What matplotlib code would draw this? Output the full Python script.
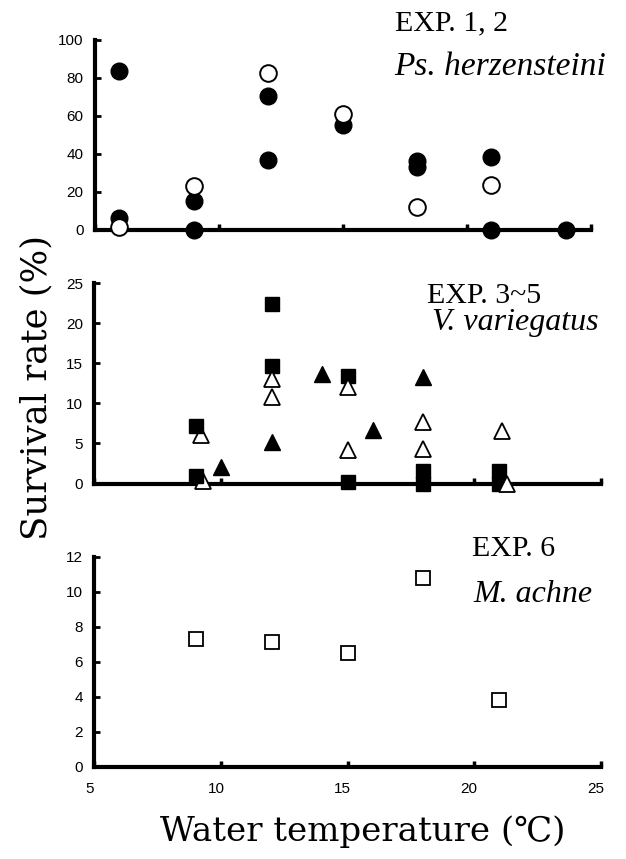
import matplotlib
matplotlib.use('Agg')
import matplotlib.pyplot as plt
import matplotlib.transforms as mtrans

# ---- data ----
# EXP. 1, 2  Ps. herzensteini
ps_fill_t = [6, 6, 9, 9, 12, 12, 15, 18, 18, 21, 21, 24]
ps_fill_v = [83.9, 6.1, 14.9, 0, 70.7, 36.8, 54.9, 36, 33, 38.4, 0, 0]
ps_open_t = [6, 9, 12, 15, 18, 21]
ps_open_v = [1.5, 22.8, 82.5, 60.9, 12.0, 23.5]

# EXP. 3~5  V. variegatus
vv_sq_t = [9, 9, 12, 12, 15, 15, 18, 18, 21, 21]
vv_sq_v = [7.2, 0.9, 22.4, 14.7, 13.4, 0.2, 1.5, 0, 1.5, 0]
vv_tri_t = [10, 12, 14, 16, 18]
vv_tri_v = [2.1, 5.2, 13.7, 6.7, 13.3]
vv_otri_t = [9.2, 9.3, 12, 12, 15, 15, 18, 18, 21.1, 21.3]
vv_otri_v = [6.05, 0.3, 13.1, 10.8, 12.1, 4.2, 7.7, 4.3, 6.5, 0]

# EXP. 6  M. achne
ma_t = [9, 12, 15, 18, 21]
ma_v = [7.3, 7.1, 6.5, 10.8, 3.8]

plt.rcParams['font.family'] = ['Liberation Sans', 'DejaVu Sans']

W, H = 626, 859
fig = plt.figure(figsize=(W / 100, H / 100), dpi=100)

def box(l, r, b, t):
    return [l / W, 1 - b / H, (r - l) / W, (b - t) / H]

ax1 = fig.add_axes(box(94.5, 590.5, 229.5, 40))
ax2 = fig.add_axes(box(94.3, 600.7, 483.5, 283.3))
ax3 = fig.add_axes(box(94.3, 600.7, 766.7, 556.7))

shift = mtrans.ScaledTranslation(-5 / 100, 0, fig.dpi_scale_trans)

for ax, ymax, ystep in [(ax1, 100, 20), (ax2, 25, 5), (ax3, 12, 2)]:
    ax.set_xlim(5, 25)
    ax.set_ylim(0, ymax)
    for s in ['top', 'right']:
        ax.spines[s].set_visible(False)
    for s in ['left', 'bottom']:
        ax.spines[s].set_linewidth(3)
    ax.set_yticks(range(0, ymax + 1, ystep))
    ax.set_xticks([5, 10, 15, 20, 25])
    ax.tick_params(axis='y', direction='in', length=4.5, width=2, pad=8, labelsize=11)
    ax.tick_params(axis='x', direction='in', length=4.5, width=2.5, pad=11, labelsize=11)
    if ax is ax3:
        for lbl in ax.get_xticklabels():
            lbl.set_transform(lbl.get_transform() + shift)
    else:
        ax.set_xticklabels([])

mk = dict(linestyle='none', markeredgecolor='black', clip_on=False)

ax1.plot(ps_fill_t, ps_fill_v, 'o', ms=12, mfc='black', mew=1, zorder=3, **mk)
ax1.plot(ps_open_t, ps_open_v, 'o', ms=12, mfc='white', mew=1.4, zorder=4, **mk)

ax2.plot(vv_otri_t[:2], vv_otri_v[:2], '^', ms=11.5, mfc='white', mew=1.3, zorder=3, **mk)
ax2.plot(vv_sq_t, vv_sq_v, 's', ms=10.5, mfc='black', mew=1, zorder=4, **mk)
ax2.plot(vv_tri_t, vv_tri_v, '^', ms=11.5, mfc='black', mew=1, zorder=4, **mk)
ax2.plot(vv_otri_t[2:], vv_otri_v[2:], '^', ms=11.5, mfc='white', mew=1.3, zorder=5, **mk)

ax3.plot(ma_t, ma_v, 's', ms=10.5, mfc='white', mew=1.3, zorder=3, **mk)

# panel captions
serif = ['Liberation Serif', 'DejaVu Serif']
def put(x, y, s, size, style='normal'):
    fig.text(x / W, 1 - y / H, s, fontsize=size, family=serif, style=style,
             ha='left', va='baseline')

put(395, 30, 'EXP. 1, 2', 21.5)
put(394, 75, 'Ps. herzensteini', 24, 'italic')
put(427, 303, 'EXP. 3~5', 21.5)
put(432, 330, 'V. variegatus', 23, 'italic')
put(472, 556, 'EXP. 6', 21.5)
put(473, 602, 'M. achne', 23, 'italic')

lab = ['DejaVu Serif', 'DejaVu Sans', 'Noto Sans CJK JP']
fig.text(36.7 / W, 1 - 388 / H, 'Survival rate (%)', rotation=90, fontsize=25.5,
         family=lab, ha='center', va='center')
fig.text(363 / W, 1 - 832 / H, 'Water temperature (℃)', fontsize=24.5,
         family=lab, ha='center', va='center')

fig.savefig('out.png', dpi=100)
